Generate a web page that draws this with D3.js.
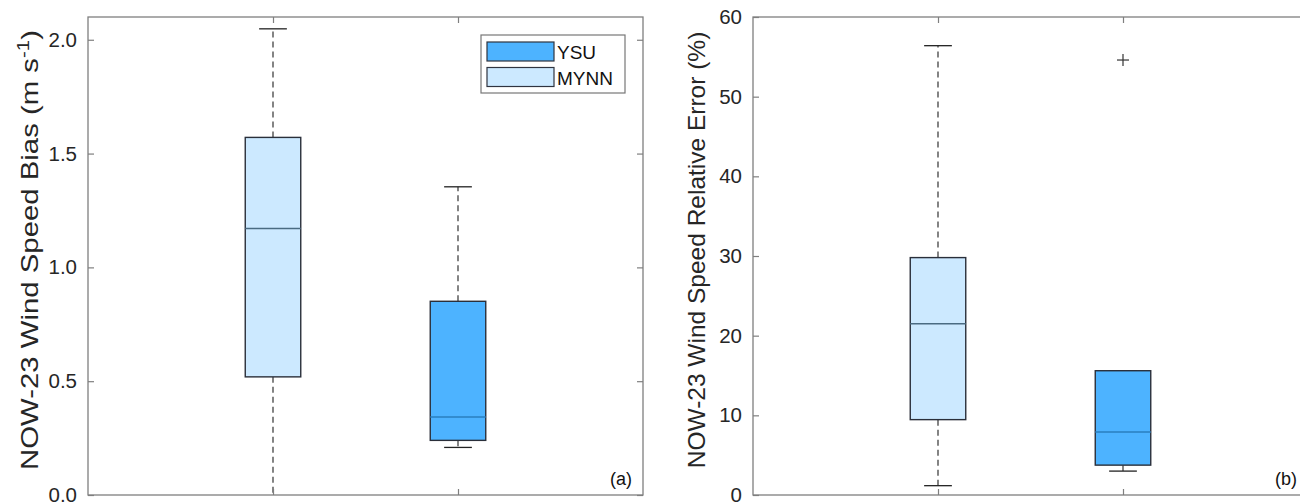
<!DOCTYPE html>
<html>
<head>
<meta charset="utf-8">
<script src="https://cdn.jsdelivr.net/npm/d3@7"></script>
<style>
  html, body { margin: 0; padding: 0; background: #fff; }
  svg { display: block; font-family: "Liberation Sans", Arial, sans-serif; }
</style>
</head>
<body>
<svg id="chart" width="1300" height="504"></svg>
<script>
// Schemes, in plotting order (position 1, position 2)
const schemes = ["MYNN", "YSU"];
const legendOrder = ["YSU", "MYNN"];
const fillColors = { YSU: "#4db3ff", MYNN: "#cce9ff" };
const medianColors = { YSU: "#2a7fbf", MYNN: "#4a6b82" };

// Box statistics: [lower whisker, Q1, median, Q3, upper whisker]
const biasStats = {
  MYNN: [-0.1, 0.519, 1.171, 1.571, 2.048],
  YSU:  [0.209, 0.24, 0.343, 0.851, 1.354]
};
const biasOutliers = { MYNN: [], YSU: [] };

const relErrStats = {
  MYNN: [1.17, 9.46, 21.5, 29.8, 56.4],
  YSU:  [3.0, 3.75, 7.9, 15.6, 15.6]
};
const relErrOutliers = { MYNN: [], YSU: [54.6] };

// Axis ranges and ticks
const biasDomain = [0, 2.1];
const biasTicks = [0, 0.5, 1.0, 1.5, 2.0];
const relErrDomain = [0, 60];
const relErrTicks = [0, 10, 20, 30, 40, 50, 60];

const svg = d3.select("#chart");
const W = 555, H = 478, TOP = 17;
const textColor = "#262626";
const frameColor = "#7f7f7f";

function drawPanel(opts) {
  const g = svg.append("g").attr("transform", `translate(${opts.left},${TOP})`);
  const x = d3.scaleLinear().domain([0, 3]).range([0, W]);
  const y = d3.scaleLinear().domain(opts.domain).range([H, 0]);

  const clipId = "clip-" + opts.tag;
  g.append("clipPath").attr("id", clipId)
    .append("rect").attr("x", 0).attr("y", 0).attr("width", W).attr("height", H);

  const plot = g.append("g").attr("clip-path", `url(#${clipId})`);
  const boxW = x(0.3) - x(0), capW = x(0.15) - x(0);

  schemes.forEach((s, i) => {
    const cx = x(i + 1);
    const [lo, q1, med, q3, hi] = opts.stats[s];
    // whiskers
    plot.append("line").attr("x1", cx).attr("x2", cx)
      .attr("y1", y(q3)).attr("y2", y(hi))
      .attr("stroke", "#333").attr("stroke-width", 1.2).attr("stroke-dasharray", "6,4");
    plot.append("line").attr("x1", cx).attr("x2", cx)
      .attr("y1", y(q1)).attr("y2", y(lo))
      .attr("stroke", "#333").attr("stroke-width", 1.2).attr("stroke-dasharray", "6,4");
    // caps
    [lo, hi].forEach(v => {
      plot.append("line").attr("x1", cx - capW / 2).attr("x2", cx + capW / 2)
        .attr("y1", y(v)).attr("y2", y(v))
        .attr("stroke", "#222").attr("stroke-width", 1.3);
    });
    // box
    plot.append("rect").attr("x", cx - boxW / 2).attr("y", y(q3))
      .attr("width", boxW).attr("height", y(q1) - y(q3))
      .attr("fill", fillColors[s]).attr("stroke", "#2a2f3a").attr("stroke-width", 1.4);
    // median
    plot.append("line").attr("x1", cx - boxW / 2).attr("x2", cx + boxW / 2)
      .attr("y1", y(med)).attr("y2", y(med))
      .attr("stroke", medianColors[s]).attr("stroke-width", 1.4);
    // outliers
    opts.outliers[s].forEach(v => {
      const p = plot.append("g").attr("transform", `translate(${cx},${y(v)})`);
      p.append("line").attr("x1", -6).attr("x2", 6).attr("y1", 0).attr("y2", 0)
        .attr("stroke", "#333").attr("stroke-width", 1.2);
      p.append("line").attr("x1", 0).attr("x2", 0).attr("y1", -6).attr("y2", 6)
        .attr("stroke", "#333").attr("stroke-width", 1.2);
    });
  });

  // frame
  g.append("rect").attr("width", W).attr("height", H)
    .attr("fill", "none").attr("stroke", frameColor).attr("stroke-width", 1.3);

  // left axis with labels, ticks pointing inward
  const left = g.append("g").call(
    d3.axisLeft(y).tickValues(opts.ticks).tickFormat(opts.fmt)
      .tickSizeInner(-6).tickSizeOuter(0).tickPadding(11));
  // right axis ticks only
  const right = g.append("g").attr("transform", `translate(${W},0)`).call(
    d3.axisRight(y).tickValues(opts.ticks).tickFormat("")
      .tickSizeInner(-6).tickSizeOuter(0));
  // top and bottom ticks at box positions
  const bottom = g.append("g").attr("transform", `translate(0,${H})`).call(
    d3.axisBottom(x).tickValues([1, 2]).tickFormat("").tickSizeInner(-6).tickSizeOuter(0));
  const top = g.append("g").call(
    d3.axisTop(x).tickValues([1, 2]).tickFormat("").tickSizeInner(-6).tickSizeOuter(0));
  [left, right, bottom, top].forEach(a => {
    a.select(".domain").remove();
    a.selectAll(".tick line").attr("stroke", frameColor).attr("stroke-width", 1.2);
  });
  left.selectAll(".tick text").attr("fill", textColor)
    .style("font-size", "20.5px").style("font-family", "Liberation Sans, Arial, sans-serif");

  // y-axis title, stretched along its baseline to span the axis
  const t = g.append("text")
    .attr("text-anchor", "middle").attr("fill", textColor)
    .style("font-size", opts.titleSize + "px");
  opts.title(t);
  const len = t.node().getComputedTextLength();
  const sx = opts.titleSpan ? opts.titleSpan / len : 1;
  t.attr("transform", `translate(${opts.titleX},${H / 2 - 6}) rotate(-90) scale(${sx},1)`);

  // panel tag
  g.append("text").attr("x", W - 11).attr("y", H - 10)
    .attr("text-anchor", "end").attr("fill", "#111")
    .style("font-size", "18px").text(opts.label);

  return g;
}

const ga = drawPanel({
  tag: "a", left: 88, domain: biasDomain, ticks: biasTicks,
  fmt: d3.format(".1f"), stats: biasStats, outliers: biasOutliers,
  titleX: -50, titleSize: 23, titleSpan: 440, label: "(a)",
  title: t => {
    t.append("tspan").text("NOW-23 Wind Speed Bias (m s");
    t.append("tspan").attr("dy", -9).style("font-size", "16px").text("-1");
    t.append("tspan").attr("dy", 9).text(")");
  }
});

drawPanel({
  tag: "b", left: 753, domain: relErrDomain, ticks: relErrTicks,
  fmt: d3.format("d"), stats: relErrStats, outliers: relErrOutliers,
  titleX: -48, titleSize: 24.5, titleSpan: 0, label: "(b)",
  title: t => t.text("NOW-23 Wind Speed Relative Error (%)")
});

// legend in panel (a)
const lg = ga.append("g").attr("transform", "translate(393,18)");
lg.append("rect").attr("width", 144).attr("height", 58)
  .attr("fill", "#fff").attr("stroke", "#777").attr("stroke-width", 1.2);
legendOrder.forEach((s, i) => {
  const row = lg.append("g").attr("transform", `translate(6,${7 + i * 25.5})`);
  row.append("rect").attr("width", 67).attr("height", 19)
    .attr("fill", fillColors[s]).attr("stroke", "#2f3440").attr("stroke-width", 1.2);
  row.append("text").attr("x", 70).attr("y", 17).attr("fill", "#111")
    .style("font-size", "19px").text(s);
});
</script>
</body>
</html>
